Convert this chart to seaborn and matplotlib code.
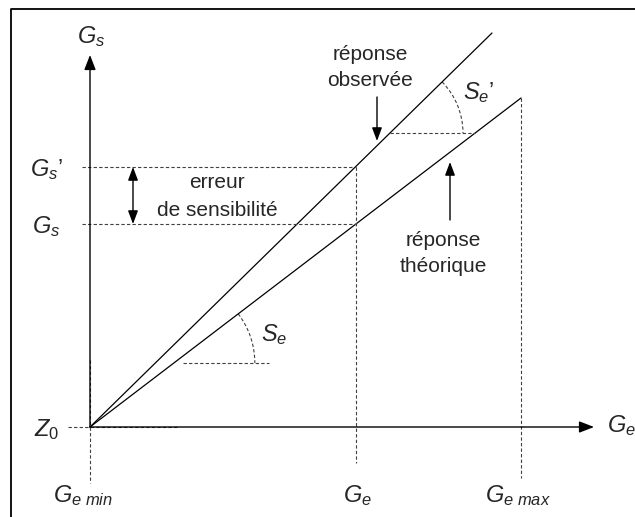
import numpy as np
import pandas as pd
import seaborn as sns
from matplotlib import pyplot as plt
from matplotlib.patches import Arc

# origin of the diagram and end points of the two responses (pixel coords)
ORIGIN = (90, 427)
GE_MIN = 90
GE = 356
GE_MAX = 521
GS = 224
GS_PRIME = 167
observed_x = [90, 492]
observed_y = [427, 33]
theoretical_x = [90, 521]
theoretical_y = [427, 98]

sns.set_style("white")
plt.rcParams["font.family"] = ["Liberation Sans", "DejaVu Sans"]
plt.rcParams["mathtext.fontset"] = "custom"
plt.rcParams["mathtext.rm"] = "Liberation Sans"
plt.rcParams["mathtext.it"] = "Liberation Sans:italic"

fig = plt.figure(figsize=(6.35, 5.17), dpi=100)
ax = fig.add_axes([0, 0, 1, 1])
ax.set_xlim(0, 635)
ax.set_ylim(517, 0)
ax.axis("off")

df = pd.DataFrame({
    "x": observed_x + theoretical_x,
    "y": observed_y + theoretical_y,
    "courbe": ["observée"] * 2 + ["théorique"] * 2,
})
sns.lineplot(data=df, x="x", y="y", units="courbe", estimator=None,
             color="black", lw=0.9, ax=ax, legend=False)

# frame
ax.plot([11, 11, 640], [530, 9, 9], color="black", lw=1.3)

# axes with arrows
axcol = "#404040"
ax.annotate("", xy=(ORIGIN[0], 55), xytext=ORIGIN,
            arrowprops=dict(arrowstyle="-|>,head_length=0.9,head_width=0.35",
                            color="black", lw=1.0, shrinkA=0, shrinkB=0))
ax.annotate("", xy=(594, ORIGIN[1]), xytext=ORIGIN,
            arrowprops=dict(arrowstyle="-|>,head_length=0.9,head_width=0.35",
                            color="black", lw=1.0, shrinkA=0, shrinkB=0))

dash = dict(color=axcol, lw=0.8, ls=(0, (3, 2)))
# projection lines
ax.plot([82, GE], [GS_PRIME, GS_PRIME], **dash)
ax.plot([82, GE], [GS, GS], **dash)
ax.plot([GE, GE], [GS_PRIME, 463], **dash)
ax.plot([GE_MAX, GE_MAX], [theoretical_y[1], 478], **dash)
ax.plot([GE_MIN, GE_MIN], [ORIGIN[1], 483], **dash)
ax.plot([68, 177], [ORIGIN[1], ORIGIN[1]], **dash)
ax.plot([GE_MIN, GE_MIN], [360, ORIGIN[1]], **dash)

# slope S_e on theoretical line (y axis is inverted -> negative angles)
k_th = (theoretical_y[0] - theoretical_y[1]) / (theoretical_x[1] - theoretical_x[0])
y0 = 363
xc = ORIGIN[0] + (ORIGIN[1] - y0) / k_th
ax.plot([183, 269], [y0, y0], **dash)
ang = np.degrees(np.arctan(k_th))
ax.add_patch(Arc((xc, y0), 162, 162, theta1=-ang, theta2=0, **dash))

# slope S_e' on observed line
k_ob = (observed_y[0] - observed_y[1]) / (observed_x[1] - observed_x[0])
y1 = 133
xo = ORIGIN[0] + (ORIGIN[1] - y1) / k_ob
xt = ORIGIN[0] + (ORIGIN[1] - y1) / k_th
ax.plot([xo, xt], [y1, y1], **dash)
ang2 = np.degrees(np.arctan(k_ob))
ax.add_patch(Arc((xo, y1), 146, 146, theta1=-ang2, theta2=0, **dash))

# double arrow for the error
ax.annotate("", xy=(133, GS_PRIME), xytext=(133, GS),
            arrowprops=dict(arrowstyle="<|-|>,head_length=0.8,head_width=0.3",
                            color="black", lw=1.0, shrinkA=0, shrinkB=0))
# pointer arrows
ax.annotate("", xy=(377, 141), xytext=(377, 97),
            arrowprops=dict(arrowstyle="-|>,head_length=0.8,head_width=0.3",
                            color="black", lw=1.0, shrinkA=0, shrinkB=0))
ax.annotate("", xy=(450, 162), xytext=(450, 220),
            arrowprops=dict(arrowstyle="-|>,head_length=0.8,head_width=0.3",
                            color="black", lw=1.0, shrinkA=0, shrinkB=0))

fs = 15
lab = 17
ax.text(217, 183, "erreur", ha="center", va="center", fontsize=fs)
ax.text(217, 210, "de sensibilité", ha="center", va="center", fontsize=fs)
ax.text(370, 55, "réponse", ha="center", va="center", fontsize=fs)
ax.text(370, 81, "observée", ha="center", va="center", fontsize=fs)
ax.text(443, 240, "réponse", ha="center", va="center", fontsize=fs)
ax.text(443, 266, "théorique", ha="center", va="center", fontsize=fs)

ax.text(91, 37, r"$G_s$", ha="center", va="center", fontsize=lab)
ax.text(46, 170, r"$G_s$’", ha="center", va="center", fontsize=lab)
ax.text(46, 227, r"$G_s$", ha="center", va="center", fontsize=lab)
ax.text(47, 430, r"$Z_0$", ha="center", va="center", fontsize=lab)
ax.text(621, 426, r"$G_e$", ha="center", va="center", fontsize=lab)
ax.text(83, 496, r"$G_{e\ min}$", ha="center", va="center", fontsize=lab)
ax.text(357, 496, r"$G_e$", ha="center", va="center", fontsize=lab)
ax.text(518, 496, r"$G_{e\ max}$", ha="center", va="center", fontsize=lab)
ax.text(274, 335, r"$S_e$", ha="center", va="center", fontsize=lab)
ax.text(479, 93, r"$S_e$’", ha="center", va="center", fontsize=lab)

fig.savefig("out.png", dpi=100)
